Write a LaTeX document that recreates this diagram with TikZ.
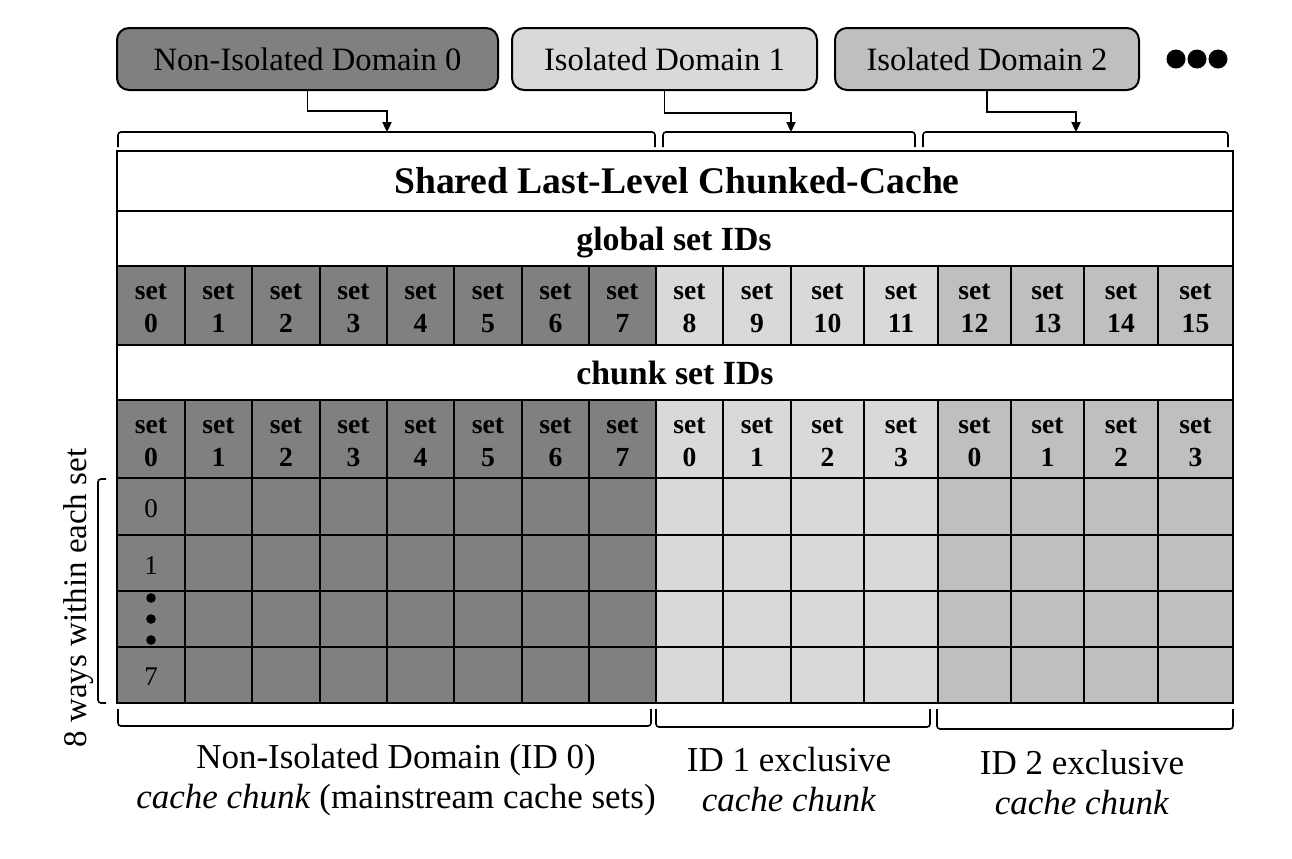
\documentclass[tikz,border=0pt]{standalone}
\usepackage{fontspec}
\setmainfont{Liberation Serif}
\usetikzlibrary{arrows.meta}

\definecolor{dom0}{HTML}{808080}
\definecolor{dom1}{HTML}{D9D9D9}
\definecolor{dom2}{HTML}{BFBFBF}

\tikzset{
  dombox/.style={draw, line width=1pt, rounded corners=6pt, minimum height=31pt,
    inner sep=0pt, font=\fontsize{16.3}{18}\selectfont},
  conn/.style={line width=0.8pt, -{Triangle[length=5pt,width=4.6pt]}},
  brace/.style={line width=0.8pt, rounded corners=1.5pt},
  tableline/.style={line width=1.25pt},
  gridline/.style={line width=1pt},
  header/.style={font=\bfseries\fontsize{16.9}{18}\selectfont, anchor=base, inner sep=0pt},
  setcell/.style={font=\bfseries\fontsize{13.8}{16.5}\selectfont, align=center, inner sep=0pt},
  waylabel/.style={font=\fontsize{13.5}{15}\selectfont, inner sep=0pt},
  chunklabel/.style={font=\fontsize{17.5}{20}\selectfont, align=center, inner sep=0pt}
}

\begin{document}
\begin{tikzpicture}[x=0.5pt, y=-0.5pt]
\useasboundingbox (0,0) rectangle (1292,858);

% security domains
\node[dombox, fill=dom0, minimum width=190.5pt] (d0) at (307.5,59) {Non-Isolated Domain 0};
\node[dombox, fill=dom1, minimum width=152.5pt] (d1) at (664.5,59) {Isolated Domain 1};
\node[dombox, fill=dom2, minimum width=152pt]   (d2) at (987,59)   {Isolated Domain 2};
\foreach \x in {1176,1197,1218} \fill (\x,59) circle[radius=9.5];

% brackets over the chunks
\draw[brace] (118,147) -- (118,132) -- (655,132) -- (655,147);
\draw[brace] (663,147) -- (663,132) -- (915,132) -- (915,147);
\draw[brace] (923,147) -- (923,132) -- (1228,132) -- (1228,147);

% domain -> chunk connectors
\coordinate (k0) at (387,111); \coordinate (t0) at (387,132);
\coordinate (k1) at (791,113); \coordinate (t1) at (791,132);
\coordinate (k2) at (1076,112); \coordinate (t2) at (1076,132);
\draw[conn] (d0.south) |- (k0) -- (t0);
\draw[conn] (d1.south) |- (k1) -- (t1);
\draw[conn] (d2.south) |- (k2) -- (t2);

% cell fills
\foreach \l/\r/\c in {117/185/dom0,185/252/dom0,252/320/dom0,320/387/dom0,387/454/dom0,
  454/522/dom0,522/589/dom0,589/656/dom0,656/723/dom1,723/791/dom1,791/864/dom1,864/938/dom1,
  938/1011/dom2,1011/1084/dom2,1084/1158/dom2,1158/1233/dom2}{
  \fill[\c] (\l,266) rectangle (\r,345);
  \fill[\c] (\l,400) rectangle (\r,703);
}

% cell borders and set labels
\foreach \l/\r/\g/\k in {117/185/0/0,185/252/1/1,252/320/2/2,320/387/3/3,387/454/4/4,
  454/522/5/5,522/589/6/6,589/656/7/7,656/723/8/0,723/791/9/1,791/864/10/2,864/938/11/3,
  938/1011/12/0,1011/1084/13/1,1084/1158/14/2,1158/1233/15/3}{
  \draw[gridline] (\l,266) rectangle (\r,345);
  \draw[gridline] (\l,400) rectangle (\r,478);
  \foreach \t/\b in {478/535,535/591,591/647,647/703}
    \draw[gridline] (\l,\t) rectangle (\r,\b);
  \node[setcell] (g\g) at ({(\l+\r)/2},308) {set\\\g};
  \node[setcell] (c\g) at ({(\l+\r)/2},442) {set\\\k};
}

% table frame and header rows
\draw[tableline] (117,151) rectangle (1233,703);
\foreach \y in {211,266,345,400,478} \draw[tableline] (117,\y) -- (1233,\y);
\node[font=\bfseries\fontsize{18.8}{20}\selectfont, anchor=base, inner sep=0pt] (title) at (677,193)
  {Shared Last-Level Chunked-Cache};
\node[header] (gids) at (674,250) {global set IDs};
\node[header] (cids) at (675,384) {chunk set IDs};

% ways
\node[waylabel] (w0) at (151,509) {0};
\node[waylabel] (w1) at (151,566) {1};
\foreach \y in {598,619,640} \fill (151,\y) circle[radius=4.8];
\node[waylabel] (w7) at (151,677) {7};
\draw[brace] (106,479) -- (98,479) -- (98,703) -- (106,703);
\node[font=\fontsize{16.5}{18}\selectfont, rotate=90, anchor=base, inner sep=0pt] (ways)
  at (86,598) {8 ways within each set};

% brackets under the chunks
\draw[brace] (118,709) -- (118,726) -- (651,726) -- (651,709);
\draw[brace] (656,709) -- (656,727) -- (930,727) -- (930,709);
\draw[brace] (937,709) -- (937,729) -- (1233,729) -- (1233,709);

\node[chunklabel] (n0) at (396,780) {Non-Isolated Domain (ID 0)\\\textit{cache chunk} (mainstream cache sets)};
\node[chunklabel] (n1) at (789,780) {ID 1 exclusive\\\textit{cache chunk}};
\node[chunklabel] (n2) at (1082,783) {ID 2 exclusive\\\textit{cache chunk}};
\end{tikzpicture}
\end{document}
